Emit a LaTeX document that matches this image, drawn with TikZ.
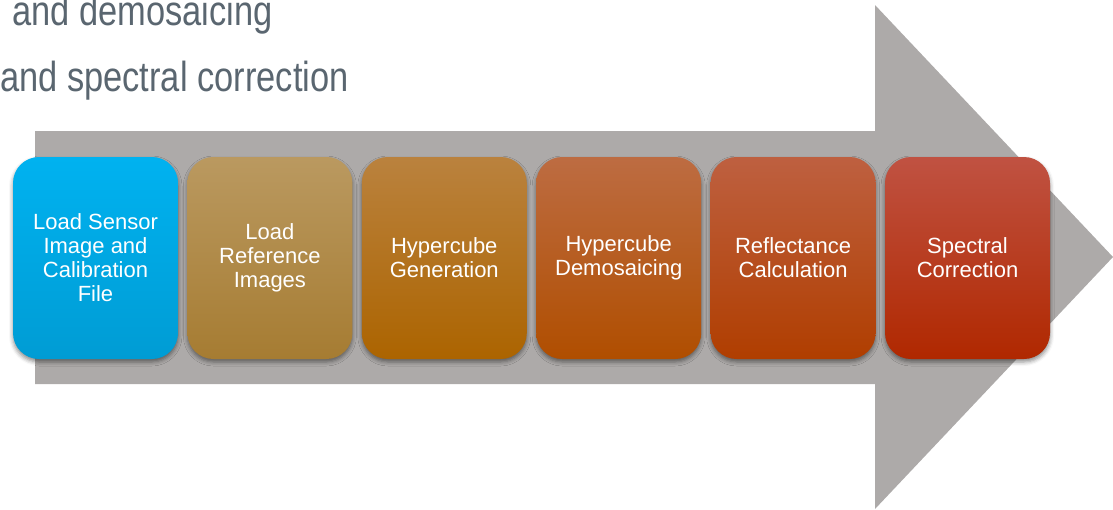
\documentclass[tikz,border=0pt]{standalone}
\usepackage{fontspec}
\setmainfont{Liberation Sans}
\usetikzlibrary{positioning, shadows.blur}
\usepackage{xcolor}
\definecolor{arrowgray}{RGB}{173, 170, 169}
\definecolor{titlegray}{RGB}{90, 102, 112}

\begin{document}
\begin{tikzpicture}[x=1pt, y=-1pt, node distance=9pt,
  stage/.style={rounded corners=26pt, minimum width=165pt, minimum height=202pt,
    align=center, text=white, inner sep=0pt,
    font=\fontsize{22}{24}\selectfont,
    blur shadow={shadow xshift=0pt, shadow yshift=-3pt, shadow blur radius=4pt, shadow opacity=45}},
  heading/.style={anchor=base west, inner sep=0pt, text=titlegray, font=\fontsize{42}{44}\selectfont}]
\useasboundingbox (0,0) rectangle (1113,509);
\begin{scope}
\clip (0,0) rectangle (1113,509);
% big process arrow behind the stages
\fill[arrowgray] (35,131) -- (875,131) -- (875,5) -- (1113,257) -- (875,509) -- (875,384) -- (35,384) -- cycle;
\node[heading] (h1) at (12,25) {\scalebox{0.82}[1]{and demosaicing}};
\node[heading] (h2) at (0,91) {\scalebox{0.82}[1]{and spectral correction}};
\end{scope}
% processing stages
\node[stage, top color={rgb,255:red,0;green,178;blue,240}, bottom color={rgb,255:red,0;green,156;blue,212}] (s1) at (95.5,258) {Load Sensor\\Image and\\Calibration\\File};
\node[stage, top color={rgb,255:red,186;green,153;blue,96}, bottom color={rgb,255:red,166;green,124;blue,50}, right=of s1] (s2) {Load\\Reference\\Images};
\node[stage, top color={rgb,255:red,186;green,130;blue,62}, bottom color={rgb,255:red,172;green,100;blue,0}, right=of s2] (s3) {Hypercube\\Generation};
\node[stage, top color={rgb,255:red,189;green,108;blue,66}, bottom color={rgb,255:red,176;green,78;blue,0}, right=of s3] (s4) {Hypercube\\Demosaicing};
\node[stage, top color={rgb,255:red,190;green,96;blue,64}, bottom color={rgb,255:red,176;green,62;blue,0}, right=of s4] (s5) {Reflectance\\Calculation};
\node[stage, top color={rgb,255:red,192;green,82;blue,66}, bottom color={rgb,255:red,176;green,40;blue,0}, right=of s5] (s6) {Spectral\\Correction};
\end{tikzpicture}
\end{document}
